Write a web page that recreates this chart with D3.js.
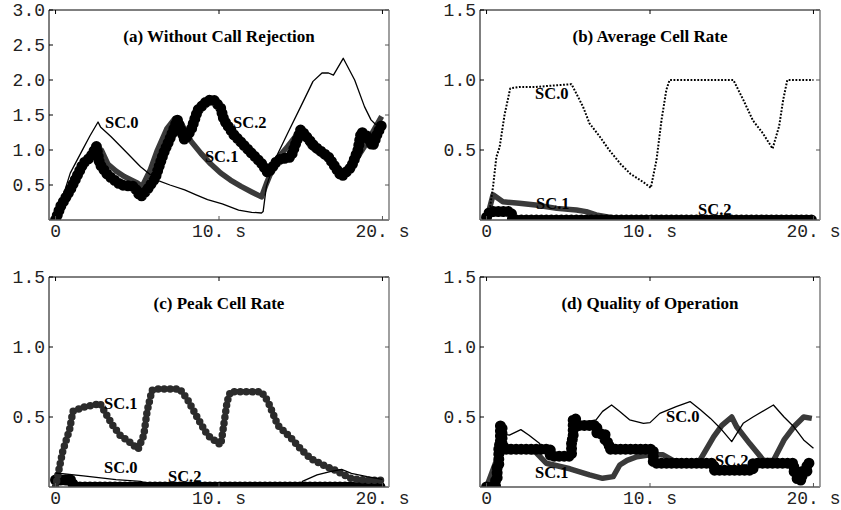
<!DOCTYPE html>
<html>
<head>
<meta charset="utf-8">
<script src="https://cdn.jsdelivr.net/npm/d3@7"></script>
<style>
  body { margin: 0; background: #fff; }
  .tick-label { font-family: "Liberation Mono", "Courier New", monospace; font-size: 18px; fill: #222; }
  .title { font-family: "Liberation Serif", "Times New Roman", serif; font-weight: bold; font-size: 17px; }
  .sc-label { font-family: "Liberation Serif", "Times New Roman", serif; font-weight: bold; font-size: 16.5px; }
</style>
</head>
<body>
<div id="viz"></div>
<script>
// time axis ticks (seconds) and their labels
var xTicks = [0, 10, 20];
var xTickLabels = ["0", "10. s", "20. s"];
var yTicksA = [0.5, 1.0, 1.5, 2.0, 2.5, 3.0];
var yTicksB = [0.5, 1.0, 1.5];

// (a) Without Call Rejection  -- [time s, value]
var a_sc0 = [[0,0],[0.9,0.67],[1.6,0.98],[2.1,1.2],[2.6,1.40],[2.75,1.33],[3.4,1.19],[4.2,1.0],[5.2,0.76],[6.2,0.57],[7.0,0.50],[7.9,0.43],[8.6,0.36],[9.3,0.29],[10.2,0.23],[11.2,0.14],[12.0,0.11],[12.6,0.10],[12.7,0.12],[12.9,0.48],[13.5,0.90],[14.2,1.24],[15.0,1.62],[15.75,1.98],[16.3,2.10],[16.7,2.10],[17.0,2.07],[17.6,2.31],[18.3,2.0],[18.9,1.62],[19.3,1.43],[19.6,1.36]];
var a_sc1 = [[0,0],[0.7,0.38],[1.3,0.62],[1.9,0.88],[2.45,1.05],[2.8,1.0],[3.2,0.80],[3.7,0.70],[4.2,0.62],[5.0,0.53],[5.3,0.48],[5.8,0.72],[6.2,0.98],[6.8,1.30],[7.3,1.45],[7.6,1.42],[8.3,1.12],[8.9,0.95],[9.5,0.80],[10.1,0.67],[10.7,0.57],[11.35,0.48],[12.0,0.40],[12.6,0.33],[12.9,0.52],[13.5,0.86],[14.2,1.05],[15.0,1.29],[15.6,1.05],[16.7,0.86],[17.5,0.62],[18.1,0.76],[18.9,1.05],[19.95,1.48]];
var a_sc2 = [[0,0],[0.3,0.19],[0.9,0.43],[1.3,0.62],[1.7,0.81],[2.15,0.90],[2.5,1.05],[2.7,0.80],[3.2,0.64],[4.0,0.50],[4.8,0.48],[5.2,0.33],[5.6,0.43],[6.1,0.60],[6.6,0.95],[7.05,1.19],[7.45,1.43],[7.9,1.14],[8.3,1.29],[8.7,1.57],[9.3,1.71],[9.7,1.71],[10.1,1.60],[10.3,1.43],[10.9,1.22],[11.8,1.0],[12.6,0.81],[13.0,0.67],[13.6,0.86],[14.4,0.90],[15.0,1.29],[15.85,1.05],[16.7,0.90],[17.5,0.62],[18.1,0.76],[18.5,1.0],[18.7,1.26],[19.1,1.19],[19.4,1.05],[19.7,1.24],[20.0,1.38]];

// (b) Average Cell Rate
var b_sc0 = [[0,0],[0.2,0.08],[0.4,0.24],[0.6,0.45],[0.8,0.52],[1.1,0.75],[1.45,0.94],[2.0,0.95],[3.0,0.95],[4.0,0.96],[5.2,0.97],[5.9,0.81],[6.3,0.69],[6.9,0.60],[7.5,0.50],[8.2,0.40],[8.8,0.33],[9.6,0.27],[10.05,0.23],[10.4,0.43],[10.7,0.71],[11.0,0.93],[11.2,1.0],[13.0,1.0],[15.1,1.0],[15.7,0.86],[16.3,0.71],[16.9,0.62],[17.5,0.51],[17.9,0.67],[18.15,0.86],[18.4,1.0],[20.0,1.0]];
var b_sc1 = [[0,0],[0.4,0.18],[1.0,0.13],[2.0,0.12],[3.0,0.107],[4.3,0.083],[5.5,0.071],[6.1,0.06],[6.7,0.036],[7.5,0.02],[8.0,0],[20,0]];
var b_sc2 = [[0,0.02],[0.2,0.06],[1.5,0.06],[1.6,0],[20,0]];

// (c) Peak Cell Rate
var c_sc0 = [[0,0.10],[1.7,0.08],[3.7,0.052],[5.2,0.04],[6.0,0.012],[8,0],[9.8,0],[10.2,0.02],[10.6,0],[15.0,0],[15.1,0.04],[16.0,0.086],[16.8,0.11],[17.5,0.126],[18.1,0.098],[19.06,0.074],[20.0,0.055]];
var c_sc1 = [[0,0],[0.15,0.09],[0.45,0.26],[0.86,0.41],[1.06,0.54],[1.7,0.57],[2.5,0.59],[2.7,0.60],[2.9,0.56],[3.5,0.44],[3.95,0.37],[4.55,0.32],[5.05,0.27],[5.4,0.37],[5.6,0.54],[5.9,0.69],[6.2,0.70],[7.6,0.70],[8.05,0.63],[8.7,0.49],[9.3,0.37],[10.1,0.30],[10.2,0.37],[10.5,0.61],[10.7,0.68],[12.6,0.68],[13.0,0.61],[13.6,0.44],[14.4,0.35],[15.0,0.27],[15.65,0.20],[16.5,0.15],[17.1,0.12],[17.7,0.083],[18.1,0.06],[19.1,0.048],[20.0,0.048]];
var c_sc2 = [[0,0.05],[1.0,0.05],[1.1,0],[20,0]];

// (d) Quality of Operation
var d_sc0 = [[0.7,0.25],[0.9,0.38],[1.4,0.37],[2.1,0.41],[2.6,0.37],[3.25,0.31],[3.6,0.24],[5.2,0.22],[5.4,0.45],[6.7,0.48],[7.1,0.54],[7.65,0.586],[8.15,0.54],[8.75,0.48],[9.6,0.455],[10.0,0.46],[10.6,0.526],[11.6,0.574],[12.45,0.61],[13.1,0.55],[13.7,0.49],[14.3,0.42],[15.0,0.324],[15.7,0.455],[16.3,0.50],[17.55,0.586],[18.2,0.50],[18.8,0.43],[19.4,0.336],[20.0,0.276]];
var d_sc1 = [[0,0],[0.8,0.25],[1.2,0.27],[3.0,0.25],[3.65,0.17],[5.1,0.13],[6.3,0.086],[7.1,0.062],[7.75,0.074],[8.15,0.157],[8.6,0.19],[9.2,0.216],[10.0,0.23],[10.8,0.23],[11.4,0.19],[12.45,0.17],[13.05,0.19],[13.9,0.36],[14.4,0.44],[15.0,0.50],[15.3,0.43],[16.1,0.31],[16.95,0.19],[17.55,0.19],[18.2,0.336],[18.8,0.43],[19.4,0.50],[19.9,0.49]];
var d_sc2 = [[0,0],[0.55,0.05],[0.65,0.15],[0.75,0.3],[0.85,0.44],[0.95,0.3],[1.05,0.27],[3.9,0.22],[5.2,0.34],[5.3,0.49],[5.45,0.44],[6.75,0.38],[7.25,0.32],[7.5,0.27],[10.2,0.17],[13.9,0.12],[16.3,0.17],[18.8,0.11],[19.0,0.05],[19.3,0.11],[19.6,0.17],[20.0,0.17]];

// line looks
var styles = {
  thin:   { stroke: "#000", width: 1.3 },
  dotted: { stroke: "#000", width: 2, dash: "1.8 1.6" },
  thick:  { stroke: "#3a3a3a", width: 5.5 },
  dots:   { stroke: "#000", width: 11, dash: "0 5", cap: "round" },
  small:  { stroke: "#2b2b2b", width: 7.5, dash: "0 6", cap: "round" }
};

var panels = [
  { title: "(a) Without Call Rejection", left: 49, top: 10, ymax: 3, yticks: yTicksA,
    series: [[a_sc1, "thick"], [a_sc2, "dots"], [a_sc0, "thin"]],
    labels: [["SC.0", 3.03, 1.31], ["SC.2", 10.86, 1.31], ["SC.1", 9.14, 0.83]] },
  { title: "(b) Average Cell Rate", left: 480, top: 10, ymax: 1.5, yticks: yTicksB,
    series: [[b_sc1, "thick"], [b_sc2, "dots"], [b_sc0, "dotted"]],
    labels: [["SC.0", 2.97, 0.864], ["SC.1", 3.03, 0.079], ["SC.2", 12.94, 0.036]] },
  { title: "(c) Peak Cell Rate", left: 49, top: 277, ymax: 1.5, yticks: yTicksB,
    series: [[c_sc2, "dots"], [c_sc1, "small"], [c_sc0, "thin"]],
    labels: [["SC.1", 2.97, 0.557], ["SC.0", 2.97, 0.10], ["SC.2", 6.88, 0.036]] },
  { title: "(d) Quality of Operation", left: 480, top: 277, ymax: 1.5, yticks: yTicksB,
    series: [[d_sc1, "thick"], [d_sc2, "dots", true], [d_sc0, "thin"]],
    labels: [["SC.0", 10.98, 0.464], ["SC.1", 2.97, 0.064], ["SC.2", 13.98, 0.15]] }
];

var W = 841, H = 510, pw = 340, ph = 210;

var svg = d3.select("#viz").append("svg")
  .attr("width", W)
  .attr("height", H);

panels.forEach(function (p, i) {
  var x = d3.scaleLinear().domain([-0.4, 20.4]).range([p.left, p.left + pw]);
  var y = d3.scaleLinear().domain([0, p.ymax]).range([p.top + ph, p.top]);
  var g = svg.append("g");

  // clip to plot frame
  var clipId = "clip" + i;
  svg.append("clipPath").attr("id", clipId)
    .append("rect")
    .attr("x", p.left).attr("y", p.top)
    .attr("width", pw).attr("height", ph);

  var plot = g.append("g").attr("clip-path", "url(#" + clipId + ")");

  p.series.forEach(function (s) {
    var st = styles[s[1]];
    var line = d3.line()
      .x(function (d) { return x(d[0]); })
      .y(function (d) { return y(d[1]); })
      .curve(s[2] ? d3.curveStepAfter : d3.curveLinear);
    plot.append("path")
      .datum(s[0])
      .attr("d", line)
      .attr("fill", "none")
      .attr("stroke", st.stroke)
      .attr("stroke-width", st.width)
      .attr("stroke-linejoin", "round")
      .attr("stroke-linecap", st.cap || "butt")
      .attr("stroke-dasharray", st.dash || null);
  });

  // frame: left/top dark, right/bottom greyish
  var x0 = p.left, x1 = p.left + pw, y0 = p.top, y1 = p.top + ph;
  g.append("line").attr("x1", x0).attr("x2", x1).attr("y1", y0).attr("y2", y0).attr("stroke", "#000");
  g.append("line").attr("x1", x0).attr("x2", x0).attr("y1", y0).attr("y2", y1).attr("stroke", "#000");
  g.append("line").attr("x1", x0).attr("x2", x1).attr("y1", y1).attr("y2", y1).attr("stroke", "#555").attr("stroke-width", 1.3);
  g.append("line").attr("x1", x1).attr("x2", x1).attr("y1", y0).attr("y2", y1).attr("stroke", "#888").attr("stroke-width", 1.6);

  // y ticks + labels
  p.yticks.forEach(function (t) {
    g.append("line").attr("x1", x0).attr("x2", x0 + 4).attr("y1", y(t)).attr("y2", y(t)).attr("stroke", "#000");
    g.append("line").attr("x1", x1).attr("x2", x1 - 4).attr("y1", y(t)).attr("y2", y(t)).attr("stroke", "#555");
    g.append("text").attr("class", "tick-label")
      .attr("x", x0 - 4).attr("y", y(t)).attr("dy", "0.35em")
      .attr("text-anchor", "end")
      .text(d3.format(".1f")(t));
  });

  // x ticks + labels
  xTicks.forEach(function (t, k) {
    g.append("line").attr("x1", x(t)).attr("x2", x(t)).attr("y1", y1).attr("y2", y1 - 4).attr("stroke", "#555");
    g.append("line").attr("x1", x(t)).attr("x2", x(t)).attr("y1", y0).attr("y2", y0 + 4).attr("stroke", "#000");
    g.append("text").attr("class", "tick-label")
      .attr("x", x(t)).attr("y", y1 + 17)
      .attr("text-anchor", "middle")
      .text(xTickLabels[k]);
  });

  g.append("text").attr("class", "title")
    .attr("x", p.left + pw / 2).attr("y", p.top + 32)
    .attr("text-anchor", "middle")
    .text(p.title);

  p.labels.forEach(function (l) {
    g.append("text").attr("class", "sc-label")
      .attr("x", x(l[1])).attr("y", y(l[2]))
      .text(l[0]);
  });
});
</script>
</body>
</html>
